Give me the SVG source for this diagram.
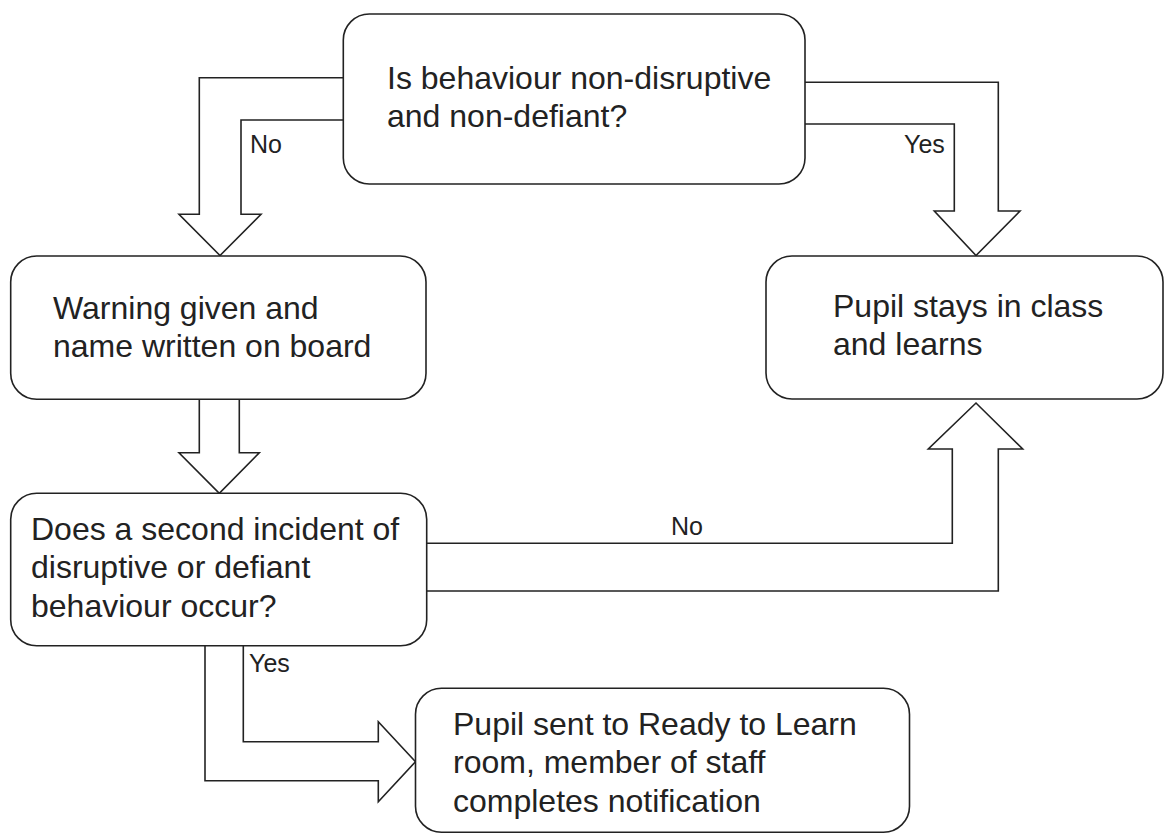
<svg xmlns="http://www.w3.org/2000/svg" width="1167" height="837" viewBox="0 0 1167 837">
<style>
.box{fill:#fff;stroke:#222;stroke-width:1.6}
.arr{fill:none;stroke:#222;stroke-width:1.6;stroke-linejoin:miter}
.t{font-family:"Liberation Sans",Arial,sans-serif;font-size:32px;fill:#222}
.l{font-family:"Liberation Sans",Arial,sans-serif;font-size:25px;fill:#222}
</style>
<rect width="1167" height="837" fill="#fff"/>
<g id="connectors">
<polyline class="arr" points="343.3,77.7 199.3,77.7 199.3,214.3 179,214.3 220,255.5 261,214.3 241,214.3 241,120 343.3,120"/>
<text class="l" x="250" y="153">No</text>
<polyline class="arr" points="805,82.3 998.3,82.3 998.3,211 1020,211 976,255.5 934.3,211 954.3,211 954.3,124 805,124"/>
<text class="l" x="904" y="153">Yes</text>
<polyline class="arr" points="199.3,399.3 199.3,452.7 179,452.7 219.3,493.3 259.3,452.7 239.3,452.7 239.3,399.3"/>
<polyline class="arr" points="426.7,591 998.3,591 998.3,449 1022.7,449 976,403 928.3,449 952.3,449 952.3,543.3 426.7,543.3"/>
<text class="l" x="687" y="535" text-anchor="middle">No</text>
<polyline class="arr" points="205,645.7 205,780.7 378.3,780.7 378.3,801.7 415.5,761.7 378.3,721.7 378.3,741.7 243.3,741.7 243.3,645.7"/>
<text class="l" x="249" y="672">Yes</text>
</g>
<g id="n-question">
<rect class="box" x="343.3" y="14" width="461.7" height="170" rx="26"/>
<text class="t" x="387" y="89">Is behaviour non-disruptive</text>
<text class="t" x="387" y="127">and non-defiant?</text>
</g>
<g id="n-warning">
<rect class="box" x="10.7" y="256" width="415.3" height="143.3" rx="26"/>
<text class="t" x="53" y="319">Warning given and</text>
<text class="t" x="53" y="357">name written on board</text>
</g>
<g id="n-stays">
<rect class="box" x="766" y="256" width="397" height="143" rx="26"/>
<text class="t" x="833" y="317">Pupil stays in class</text>
<text class="t" x="833" y="355">and learns</text>
</g>
<g id="n-second">
<rect class="box" x="10.7" y="493.3" width="416" height="152.4" rx="26"/>
<text class="t" x="31" y="540">Does a second incident of</text>
<text class="t" x="31" y="578">disruptive or defiant</text>
<text class="t" x="31" y="617">behaviour occur?</text>
</g>
<g id="n-sent">
<rect class="box" x="415.5" y="688.3" width="494" height="144" rx="26"/>
<text class="t" x="453" y="735">Pupil sent to Ready to Learn</text>
<text class="t" x="453" y="773">room, member of staff</text>
<text class="t" x="453" y="812">completes notification</text>
</g>
</svg>
